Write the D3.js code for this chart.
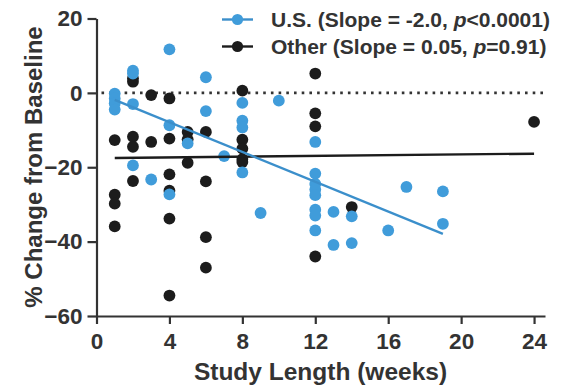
<!DOCTYPE html>
<html>
<head>
<meta charset="utf-8">
<script src="https://cdn.jsdelivr.net/npm/d3@7"></script>
<style>
  html, body { margin: 0; padding: 0; background: #fff; }
  svg { display: block; }
  text { font-family: "Liberation Sans", Arial, sans-serif; font-weight: bold; fill: #333; }
</style>
</head>
<body>
<svg id="chart" width="562" height="386"></svg>
<script>
// Percent change from baseline vs. study length, by study location
const usPoints = [
  [1, -0.2], [1, -1.5], [1, -2.8], [1, -4.5],
  [2, 6.0], [2, 5.2], [2, -3.0], [2, -19.5],
  [3, -23.3],
  [4, 11.7], [4, -8.7], [4, -27.3],
  [5, -13.6],
  [6, 4.2], [6, -4.9],
  [7, -17.0],
  [8, -2.7], [8, -7.5], [8, -9.3], [8, -21.4],
  [9, -32.3],
  [10, -2.1],
  [12, -13.2], [12, -21.7], [12, -24.5], [12, -26.0], [12, -27.5], [12, -31.4], [12, -33.0], [12, -37.0],
  [13, -32.0], [13, -40.9],
  [14, -33.2], [14, -40.4],
  [16, -37.0],
  [17, -25.3],
  [19, -26.5], [19, -35.2]
];

const otherPoints = [
  [1, -12.7], [1, -27.4], [1, -29.8], [1, -35.9],
  [2, 3.9], [2, 3.0], [2, -11.8], [2, -14.5], [2, -23.7],
  [3, -0.6], [3, -13.2],
  [4, -1.5], [4, -12.3], [4, -21.9], [4, -26.3], [4, -33.8], [4, -54.5],
  [5, -10.5], [5, -12.5], [5, -18.8],
  [6, -10.5], [6, -23.8], [6, -38.8], [6, -47.0],
  [8, 0.6], [8, -12.6], [8, -15.0], [8, -17.8], [8, -18.6],
  [12, 5.2], [12, -5.5], [12, -9.0], [12, -44.0],
  [14, -30.7],
  [24, -7.8]
];

// Linear fits: [slope, intercept, first week, last week]
const usFit = [-2.0, 0.1, 1, 19];
const otherFit = [0.05, -17.55, 1, 24];

const legendLabels = [
  { name: "U.S.", slope: "-2.0", p: "<0.0001" },
  { name: "Other", slope: "0.05", p: "=0.91" }
];

const xTicks = [0, 4, 8, 12, 16, 20, 24];
const yTicks = [20, 0, -20, -40, -60];

const usColor = "#409cda";
const usLineColor = "#3b8fcb";
const otherColor = "#1c1c1c";
const axisColor = "#333";

const svg = d3.select("#chart");

const x = d3.scaleLinear().domain([0, 24.6]).range([96.5, 545]);
const y = d3.scaleLinear().domain([-60, 20]).range([316, 18.5]);

// zero reference line
svg.append("line")
  .attr("x1", x(0) + 5).attr("x2", x(24.6))
  .attr("y1", y(0)).attr("y2", y(0))
  .attr("stroke", axisColor)
  .attr("stroke-width", 2.6)
  .attr("stroke-dasharray", "2.6,5.1");

// axes
const xAxis = svg.append("g")
  .attr("transform", `translate(0,${y(-60)})`)
  .call(d3.axisBottom(x).tickValues(xTicks).tickSize(8).tickSizeOuter(0).tickPadding(9.5));

const yAxis = svg.append("g")
  .attr("transform", `translate(${x(0)},0)`)
  .call(d3.axisLeft(y).tickValues(yTicks).tickSize(9).tickSizeOuter(0).tickPadding(5));

[xAxis, yAxis].forEach(g => {
  g.select(".domain").attr("stroke", axisColor).attr("stroke-width", 2.2);
  g.selectAll(".tick line").attr("stroke", axisColor).attr("stroke-width", 2.2);
  g.selectAll(".tick text")
    .attr("fill", axisColor)
    .style("font-family", '"Liberation Sans", Arial, sans-serif')
    .style("font-weight", "bold")
    .style("font-size", "22.5px");
});

// axis titles
svg.append("text")
  .attr("x", 320.5).attr("y", 380)
  .attr("text-anchor", "middle")
  .style("font-size", "24.5px")
  .text("Study Length (weeks)");

svg.append("text")
  .attr("transform", `translate(42,167) rotate(-90)`)
  .attr("text-anchor", "middle")
  .style("font-size", "24px")
  .text("% Change from Baseline");

// points
const r = 5.9;
svg.append("g").selectAll("circle")
  .data(otherPoints).join("circle")
  .attr("cx", d => x(d[0])).attr("cy", d => y(d[1]))
  .attr("r", r).attr("fill", otherColor);

svg.append("g").selectAll("circle")
  .data(usPoints).join("circle")
  .attr("cx", d => x(d[0])).attr("cy", d => y(d[1]))
  .attr("r", r).attr("fill", usColor);

// fit lines
function fitLine(fit, color) {
  const [m, b, x0, x1] = fit;
  svg.append("line")
    .attr("x1", x(x0)).attr("y1", y(m * x0 + b))
    .attr("x2", x(x1)).attr("y2", y(m * x1 + b))
    .attr("stroke", color).attr("stroke-width", 2.4);
}
fitLine(otherFit, otherColor);
fitLine(usFit, usLineColor);

// legend
const legend = svg.append("g");
const legendColors = [usLineColor, otherColor];
const dotColors = [usColor, otherColor];
legendLabels.forEach((d, i) => {
  const ly = 19.5 + i * 27;
  legend.append("line")
    .attr("x1", 222).attr("x2", 253).attr("y1", ly).attr("y2", ly)
    .attr("stroke", legendColors[i]).attr("stroke-width", 2.4);
  legend.append("circle")
    .attr("cx", 237.5).attr("cy", ly).attr("r", 5.6).attr("fill", dotColors[i]);
  const t = legend.append("text")
    .attr("x", 271).attr("y", ly + 7.3)
    .style("font-size", "21px");
  t.append("tspan").text(`${d.name} (Slope = ${d.slope}, `);
  t.append("tspan").style("font-style", "italic").text("p");
  t.append("tspan").text(`${d.p})`);
});
</script>
</body>
</html>
